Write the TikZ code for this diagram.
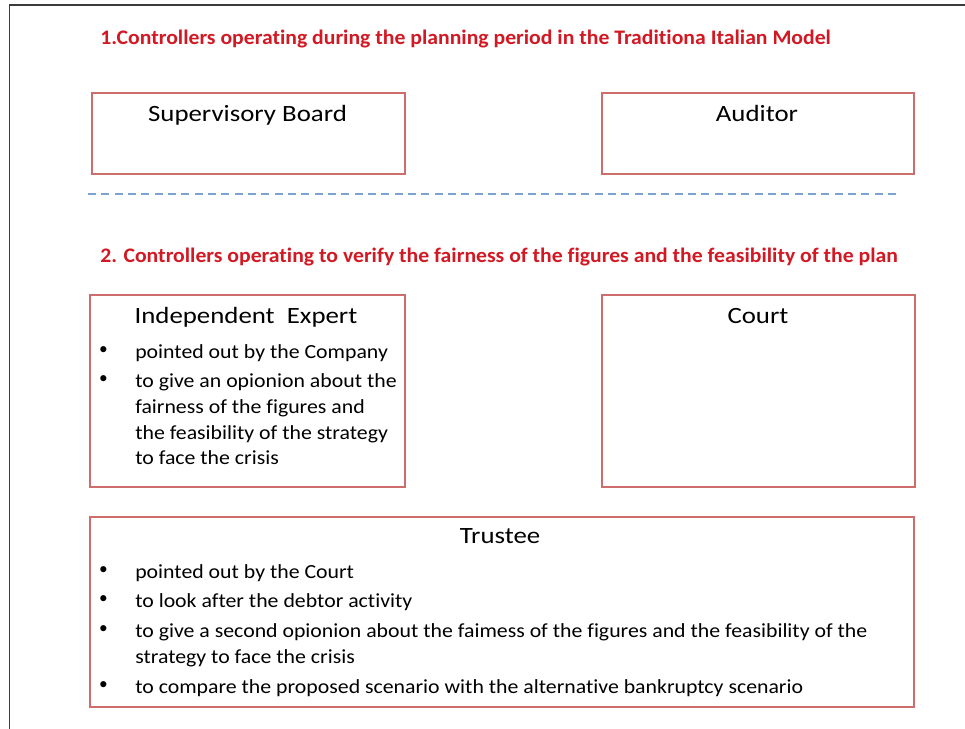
\documentclass[tikz,border=0pt]{standalone}
\usepackage{fontspec}
\setmainfont{Carlito}[Ligatures=NoCommon]
\newfontfamily\headfont{Carlito}[Ligatures=NoCommon, FakeStretch=1.05]
\newfontfamily\titlefont{Carlito}[Ligatures=NoCommon, FakeStretch=1.15]
\newfontfamily\itemfont{Carlito}[Ligatures=NoCommon, FakeStretch=1.09]
\usetikzlibrary{positioning}
\definecolor{titlered}{RGB}{210,25,35}
\definecolor{boxred}{RGB}{205,110,108}
\definecolor{dashblue}{RGB}{125,162,210}
\definecolor{framegray}{RGB}{60,60,60}
\newcommand{\pu}{0.75pt}
\tikzset{
  ctrlbox/.style={draw=boxred, line width=1.5pt, rectangle, anchor=north west, inner sep=0pt},
  heading/.style={text=titlered, font=\fontsize{15.5}{18}\headfont\bfseries, anchor=base west, inner sep=0pt},
  boxtitle/.style={font=\fontsize{17.5}{20}\titlefont, anchor=base, inner sep=0pt},
  itemline/.style={font=\fontsize{15}{18}\itemfont, anchor=base west, inner sep=0pt},
  itemdot/.style={font=\fontsize{13}{15}\selectfont, anchor=base, inner sep=0pt, yshift=3pt},
}
\begin{document}
\begin{tikzpicture}[x=0.75pt, y=-0.75pt]
  \useasboundingbox (0,0) rectangle (965,729);
  % page frame
  \draw[framegray, line width=1.1pt] (9.5,729) -- (9.5,5) -- (965,5);
  % section 1
  \node[heading] (head1) at (100,44) {1.Controllers operating during the planning period in the Traditiona Italian Model};
  \node[ctrlbox, minimum width=313*\pu, minimum height=81*\pu] (superv) at (91,92) {};
  \node[boxtitle] (supervT) at (247.5,121) {Supervisory Board};
  \node[ctrlbox, minimum width=312*\pu, minimum height=81*\pu] (auditor) at (601,92) {};
  \node[boxtitle] (auditorT) at (757,121) {Auditor};
  % separator
  \draw[dashblue, line width=1.3pt, dash pattern=on 6pt off 4pt] (88,194) -- (900,194);
  % section 2
  \node[heading] (head2) at (100,262) {2. Controllers operating to verify the fairness of the figures and the feasibility of the plan};
  \node[ctrlbox, minimum width=315*\pu, minimum height=192*\pu] (expert) at (89,294) {};
  \node[boxtitle] (expertT) at (246,323) {Independent\ \ Expert};
  \node[itemdot] (expertD1) at (103.5,358) {•};
  \node[itemline] (expertL1) at (135,358) {pointed out by the Company};
  \node[itemdot] (expertD2) at (103.5,387) {•};
  \node[itemline] (expertL2) at (135,387) {to give an opionion about the};
  \node[itemline] (expertL3) at (135,413) {fairness of the figures and};
  \node[itemline] (expertL4) at (135,439) {the feasibility of the strategy};
  \node[itemline] (expertL5) at (135,464) {to face the crisis};
  \node[ctrlbox, minimum width=313*\pu, minimum height=192*\pu] (court) at (601,294) {};
  \node[boxtitle] (courtT) at (758,323) {Court};
  % trustee
  \node[ctrlbox, minimum width=824*\pu, minimum height=190*\pu] (trustee) at (89,516) {};
  \node[boxtitle] (trusteeT) at (500,543) {Trustee};
  \node[itemdot] (trusteeD1) at (103.5,578) {•};
  \node[itemline] (trusteeL1) at (135,578) {pointed out by the Court};
  \node[itemdot] (trusteeD2) at (103.5,607) {•};
  \node[itemline] (trusteeL2) at (135,607) {to look after the debtor activity};
  \node[itemdot] (trusteeD3) at (103.5,637) {•};
  \node[itemline] (trusteeL3) at (135,637) {to give a second opionion about the faimess of the figures and the feasibility of the};
  \node[itemline] (trusteeL4) at (135,663) {strategy to face the crisis};
  \node[itemdot] (trusteeD4) at (103.5,693) {•};
  \node[itemline] (trusteeL5) at (135,693) {to compare the proposed scenario with the alternative bankruptcy scenario};
\end{tikzpicture}
\end{document}
